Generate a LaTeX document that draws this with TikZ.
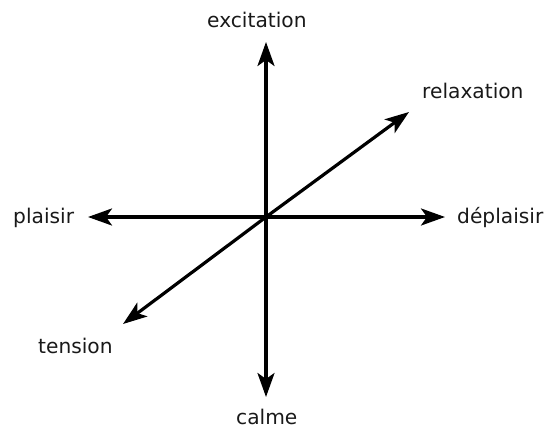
\documentclass[tikz,border=0pt]{standalone}
\usepackage{fontspec}
\setmainfont{DejaVu Sans}
\usetikzlibrary{arrows.meta}
\begin{document}
\begin{tikzpicture}[x=1pt,y=-1pt,
  axis/.style={line width=3.2pt,-{Stealth[length=24pt,width=17pt,inset=6pt]}},
  lab/.style={inner sep=0pt,anchor=base west,font=\fontsize{20.2}{24}\selectfont,text=black!90}]
\useasboundingbox (0,0) rectangle (546,428);
\coordinate (o) at (266,217);
\coordinate (up) at (266,42);
\coordinate (down) at (266,397);
\coordinate (left) at (88,217);
\coordinate (right) at (445,217);
\coordinate (ne) at (409,112);
\coordinate (sw) at (123,324);
\draw[axis] (o) -- (up);
\draw[axis] (o) -- (down);
\draw[axis] (o) -- (left);
\draw[axis] (o) -- (right);
\draw[axis] (o) -- (ne);
\draw[axis] (o) -- (sw);
\node[lab] (exc) at (207,28) {excitation};
\node[lab] (cal) at (236,424.5) {calme};
\node[lab] (pla) at (13,223) {plaisir};
\node[lab] (dep) at (457,223) {déplaisir};
\node[lab] (rel) at (422,98) {relaxation};
\node[lab] (ten) at (38,353) {tension};
\end{tikzpicture}
\end{document}
